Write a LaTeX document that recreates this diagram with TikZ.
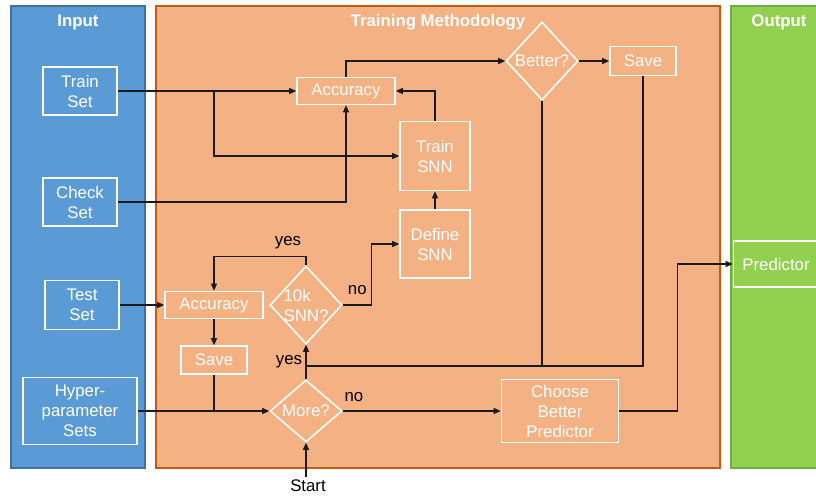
\documentclass[tikz,border=0pt]{standalone}
\usepackage{fontspec}
\setmainfont{Liberation Sans}
\usetikzlibrary{shapes.geometric,arrows.meta}
\definecolor{inblue}{HTML}{5B9BD5}
\definecolor{inblueline}{HTML}{41719C}
\definecolor{trorange}{HTML}{F4B183}
\definecolor{trorangeline}{HTML}{C55A11}
\definecolor{outgreen}{HTML}{92D050}
\definecolor{outgreenline}{HTML}{70AD47}
\definecolor{flowline}{HTML}{1A1A1A}

\tikzset{
  panel/.style={line width=1.5pt},
  paneltitle/.style={text=white, font=\fontsize{16.8}{20}\selectfont\bfseries},
  box/.style={rectangle, draw=white, line width=1.6pt, text=white, align=center, inner sep=0pt},
  decide/.style={diamond, draw=white, line width=1.6pt, text=white, inner sep=-6pt, minimum width=72pt, minimum height=78pt},
  lbl/.style={text=black},
}

\begin{document}
\begin{tikzpicture}[x=1pt, y=-1pt, node distance=110pt, font=\fontsize{16.8}{20}\selectfont,
  >={Triangle[length=7pt,width=6pt]}, flow/.style={draw=flowline, line width=1.1pt}]
\useasboundingbox (0,0) rectangle (816,499);
% panels
\draw[panel, fill=inblue, draw=inblueline] (11,6) rectangle (145,468);
\draw[panel, fill=trorange, draw=trorangeline] (156,6) rectangle (720,468);
\draw[panel, fill=outgreen, draw=outgreenline] (731,6) rectangle (825,468);
\node[paneltitle] (tin) at (78,22) {Input};
\node[paneltitle] (ttrain) at (438,22) {Training Methodology};
\node[paneltitle] (tout) at (779,22) {Output};

% input sets
\node[box, minimum width=74pt, minimum height=48pt] (trainset) at (80,91) {Train\\Set};
\node[box, minimum width=74pt, minimum height=48pt, below of=trainset, node distance=111pt] (checkset) {Check\\Set};
\node[box, minimum width=74pt, minimum height=49pt] (testset) at (82,305) {Test\\Set};
\node[box, minimum width=114pt, minimum height=67pt] (hyper) at (80,411) {Hyper-\\parameter\\Sets};

% training loop
\node[box, minimum width=98pt, minimum height=27pt] (acct) at (346,91) {Accuracy};
\node[box, minimum width=70pt, minimum height=69pt] (trainsnn) at (435,156) {Train\\SNN};
\node[box, minimum width=70pt, minimum height=68pt, below of=trainsnn, node distance=88pt] (definesnn) {Define\\SNN};
\node[decide] (better) at (542,61) {Better?};
\node[box, minimum width=66pt, minimum height=29pt, right of=better, node distance=101pt] (savet) {Save};
\node[box, minimum width=98pt, minimum height=27pt] (accb) at (214,305) {Accuracy};
\node[box, minimum width=66pt, minimum height=28pt, below of=accb, node distance=55pt] (saveb) {Save};
\node[decide, align=left] (tenk) at (306,305) {10k\\SNN?};
\node[decide, minimum height=62pt] (more) at (306,411) {More?};
\node[box, minimum width=117pt, minimum height=63pt] (choose) at (560,411) {Choose\\Better\\Predictor};
\coordinate (join) at (306,366);
\node[lbl] (start) at (308,486) {Start};

% output
\node[box, minimum width=85pt, minimum height=46pt] (predictor) at (776,264) {Predictor};

\path[draw, flow, ->] (trainset.east) -- (acct.west);
\path[draw, flow, ->] (trainset.east -| accb) |- (trainsnn.west);
\path[draw, flow, ->] (checkset.east) -| (acct.south);
\path[draw, flow, ->] (trainsnn.north) |- (acct.east);
\path[draw, flow, ->] (acct.north) |- (better.west);
\path[draw, flow, ->] (better.east) -- (savet.west);
\path[draw, flow, ->] (definesnn.north) -- (trainsnn.south);
\path[draw, flow, ->] (tenk.east) -- node[lbl, above, yshift=6pt] {no} ++(29,0) |- (definesnn.west);
\path[draw, flow, ->] (tenk.north) -- ++(0,-9) -| (accb.north);
\node[lbl] (yestop) at (288,243) {yes};
\path[draw, flow, ->] (testset.east) -- (accb.west);
\path[draw, flow, ->] (accb.south) -- (saveb.north);
\path[draw, flow] (saveb.south) -- (saveb.south |- more.west);
\path[draw, flow, ->] (hyper.east) -- (more.west);
\path[draw, flow, ->] (more.north) -- node[lbl, left] {yes} (tenk.south);
\path[draw, flow] (better.south) |- (join);
\path[draw, flow] (savet.south) |- (better.south |- join);
\path[draw, flow, ->] (more.east) -- node[lbl, above, pos=0.07, yshift=5pt] {no} (choose.west);
\path[draw, flow, ->] (more.south |- start.north) -- (more.south);
\path[draw, flow, ->] (choose.east) -- ++(58,0) |- (predictor.west);
\end{tikzpicture}
\end{document}
